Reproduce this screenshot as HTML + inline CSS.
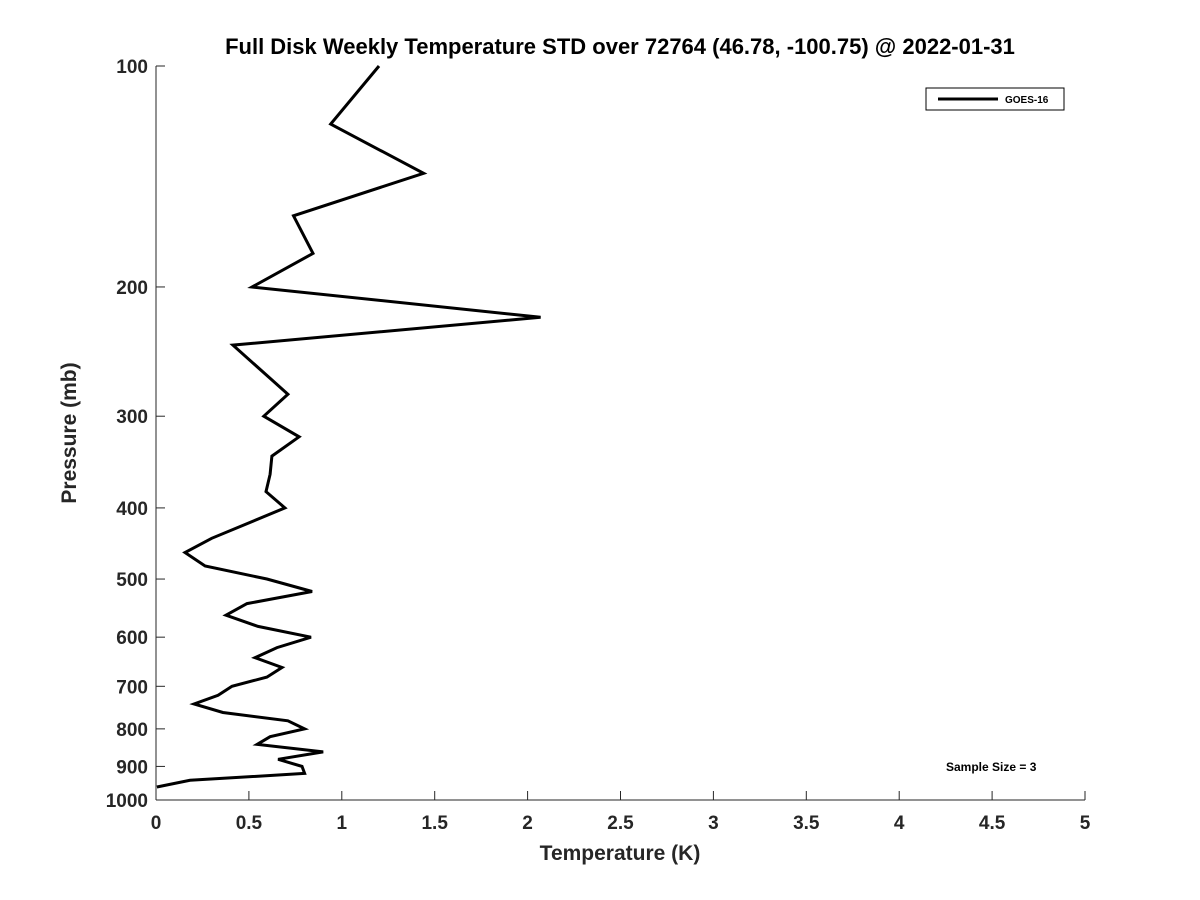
<!DOCTYPE html>
<html><head><meta charset="utf-8"><style>
body{margin:0;background:#fff;}
svg{display:block;font-family:"Liberation Sans","DejaVu Sans",sans-serif;font-weight:bold;}
</style></head><body>
<svg id="chart" width="1200" height="900" viewBox="0 0 1200 900">
<rect width="1200" height="900" fill="#fff"/>
<text x="620" y="54" text-anchor="middle" font-size="22" fill="#000">Full Disk Weekly Temperature STD over 72764 (46.78, -100.75) @ 2022-01-31</text>
<g id="axes"></g>
<path id="series" fill="none" stroke="#000" stroke-width="3" stroke-linejoin="miter"/>
<text x="620" y="860" text-anchor="middle" font-size="21" fill="#262626">Temperature (K)</text>
<text transform="translate(76,433) rotate(-90)" text-anchor="middle" font-size="21" fill="#262626">Pressure (mb)</text>
<g>
<rect x="926" y="88" width="138" height="22" fill="#fff" stroke="#000" stroke-width="1"/>
<line x1="938" y1="99" x2="998" y2="99" stroke="#000" stroke-width="3"/>
<text x="1005" y="103" font-size="10" fill="#000">GOES-16</text>
</g>
<text x="946" y="771" font-size="12" fill="#000">Sample Size = 3</text>
</svg>
<script>
const pressures = [100,120,140,160,180,200,220,240,280,300,320,340,360,380,400,440,460,480,500,520,540,560,580,600,620,640,660,680,700,720,740,760,780,800,820,840,860,880,900,920,940,960];
const stdValues = [1.20,0.94,1.44,0.74,0.845,0.517,2.07,0.414,0.71,0.58,0.77,0.624,0.614,0.592,0.694,0.30,0.156,0.264,0.597,0.84,0.49,0.377,0.549,0.834,0.651,0.533,0.678,0.597,0.409,0.334,0.205,0.36,0.71,0.80,0.614,0.544,0.90,0.657,0.786,0.80,0.183,0.005];
const xTicks = [0,0.5,1,1.5,2,2.5,3,3.5,4,4.5,5];
const xTickLabels = ["0","0.5","1","1.5","2","2.5","3","3.5","4","4.5","5"];
const yTicks = [100,200,300,400,500,600,700,800,900,1000];
const yTickLabels = ["100","200","300","400","500","600","700","800","900","1000"];

const L=156,R=1085,T=66,B=800;
function xs(v){return L+(v-0)/(5-0)*(R-L);}
function ys(p){return T+(Math.log10(p)-2)/(3-2)*(B-T);}
const NS="http://www.w3.org/2000/svg";
const ax=document.getElementById('axes');
function mk(tag,attrs){const e=document.createElementNS(NS,tag);for(const k in attrs)e.setAttribute(k,attrs[k]);ax.appendChild(e);return e;}
let e=mk('line',{x1:L,y1:B,x2:R,y2:B,stroke:'#262626','stroke-width':1});


e=mk('line',{x1:L,y1:T,x2:L,y2:B,stroke:'#262626','stroke-width':1});


xTicks.forEach((v,i)=>{
  const x=xs(v);
  let t=mk('line',{x1:x,y1:B,x2:x,y2:B-9,stroke:'#262626','stroke-width':1});
  
  
  let tx=mk('text',{x:x,y:B+29,'text-anchor':'middle','font-size':19,fill:'#262626'});
  tx.textContent=xTickLabels[i];
  
  
});
yTicks.forEach((p,i)=>{
  const y=ys(p);
  let t=mk('line',{x1:L,y1:y,x2:L+9,y2:y,stroke:'#262626','stroke-width':1});
  
  
  let tx=mk('text',{x:148,y:y+7,'text-anchor':'end','font-size':19,fill:'#262626'});
  tx.textContent=yTickLabels[i];
  
  
});
let d='';
pressures.forEach((p,i)=>{d+=(i?'L':'M')+xs(stdValues[i]).toFixed(1)+','+ys(p).toFixed(1);});
document.getElementById('series').setAttribute('d',d);
</script>
</body></html>
